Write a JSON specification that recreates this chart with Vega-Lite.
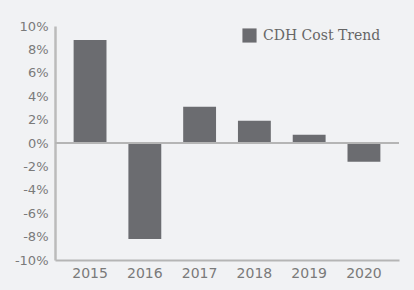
{
  "$schema": "https://vega.github.io/schema/vega-lite/v6.json",
  "width": 344,
  "height": 234,
  "autosize": {"type": "none"},
  "padding": {"left": 55, "top": 26, "right": 15, "bottom": 30},
  "background": "#f1f2f4",
  "config": {
    "view": {"stroke": null},
    "axisY": {
      "labelOverlap": false, "grid": false, "ticks": false,
      "domainColor": "#bbbbbb", "domainWidth": 2.5,
      "labelFont": "DejaVu Sans", "labelFontSize": 13, "labelColor": "#7a7a7a",
      "labelPadding": 7
    }
  },
  "data": {"values": [
    {"year": "2015", "trend": 8.8, "series": "CDH Cost Trend"},
    {"year": "2016", "trend": -8.2, "series": "CDH Cost Trend"},
    {"year": "2017", "trend": 3.1, "series": "CDH Cost Trend"},
    {"year": "2018", "trend": 1.9, "series": "CDH Cost Trend"},
    {"year": "2019", "trend": 0.7, "series": "CDH Cost Trend"},
    {"year": "2020", "trend": -1.6, "series": "CDH Cost Trend"}
  ]},
  "layer": [
    {
      "mark": {"type": "bar", "color": "#6b6c70"},
      "encoding": {
        "x": {
          "field": "year", "type": "ordinal",
          "scale": {"paddingInner": 0.4, "paddingOuter": 0.34},
          "axis": {
            "title": null, "labelAngle": 0, "ticks": false,
            "domainColor": "#b5b5b5", "domainWidth": 2,
            "labelFont": "DejaVu Sans", "labelFontSize": 14, "labelColor": "#7a7a7a",
            "labelPadding": 6, "labelOverlap": false
          }
        },
        "y": {
          "field": "trend", "type": "quantitative",
          "scale": {"domain": [-10, 10], "nice": false},
          "axis": {
            "title": null, "values": [-10, -8, -6, -4, -2, 0, 2, 4, 6, 8, 10],
            "labelExpr": "datum.value + '%'"
          }
        },
        "color": {
          "field": "series", "type": "nominal",
          "scale": {"range": ["#6b6c70"]},
          "legend": {
            "title": null, "orient": "none", "legendX": 187, "legendY": 2,
            "symbolType": "square", "symbolSize": 200, "symbolStrokeWidth": 0,
            "labelFont": "DejaVu Serif", "labelFontSize": 14, "labelColor": "#666666",
            "labelOffset": 6, "padding": 0
          }
        }
      }
    },
    {
      "mark": {"type": "rule", "color": "#b5b5b5", "strokeWidth": 2},
      "data": {"values": [{"zero": 0}]},
      "encoding": {"y": {"field": "zero", "type": "quantitative",
        "axis": {
          "title": null, "values": [-10, -8, -6, -4, -2, 0, 2, 4, 6, 8, 10],
          "labelExpr": "datum.value + '%'"
        }}}
    }
  ]
}
